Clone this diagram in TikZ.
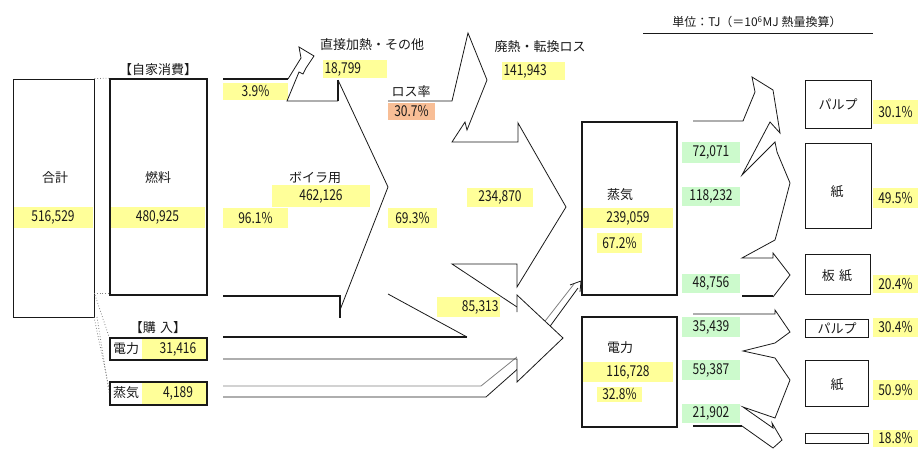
\documentclass[tikz,border=0pt]{standalone}
\usepackage{fontspec}
\setmainfont{Noto Sans CJK JP}
\newfontfamily\nf[FakeStretch=0.8]{Noto Sans CJK JP}
\definecolor{yel}{RGB}{255,255,153}
\definecolor{grn}{RGB}{204,250,204}
\definecolor{org}{RGB}{248,190,150}
\definecolor{ink}{RGB}{25,25,25}
% box: style, name, x1, y1, x2, y2
\newcommand\bx[6][bxs]{\node[#1, minimum width={#5-#3}, minimum height={#6-#4}] (#2) at ({(#3+#5)/2},{(#4+#6)/2}) {};}
% highlight: colour, name, x1, y1, x2, y2, text
\newcommand\hlb[7][yel]{\node[num, fill=#1, minimum width={#5-#3}, minimum height={#6-#4}] (#2) at ({(#3+#5)/2},{(#4+#6)/2}) {#7};}
\begin{document}
\begin{tikzpicture}[x=1pt,y=-1pt,
  lab/.style={inner sep=0, text=ink, font=\fontsize{13}{15}\selectfont},
  num/.style={inner sep=0, text=ink, font=\nf\fontsize{15}{17}\selectfont},
  thinl/.style={draw=ink, line width=0.8pt, line join=miter},
  midl/.style={draw=ink, line width=1.2pt},
  thickl/.style={draw=ink, line width=1.8pt},
  bxs/.style={draw=ink, line width=0.9pt, inner sep=0},
  tbx/.style={draw=ink, line width=1.6pt, inner sep=0},
  dots/.style={draw=gray, line width=0.8pt, dotted},
]
\useasboundingbox (0,0) rectangle (918,449);

% ---------------- highlights (drawn first) ----------------
\hlb{h1}{13}{207}{93}{228}{516,529}
\hlb{h2}{110}{207}{205}{228}{480,925}
\hlb{h3}{223}{83}{288}{100}{3.9\%}
\hlb{h4}{223}{208}{288}{228}{96.1\%}
\hlb{h5}{272}{185}{370}{207}{462,126}
\node[num, fill=yel, minimum width=64, minimum height=18, text width=61, align=left] (h6) at (355,69) {18,799};
\hlb{h7}{388}{208}{437}{228}{69.3\%}
\node[num, fill=yel, minimum width=63, minimum height=18, text width=60, align=left] (h8) at (533.5,71) {141,943};
\hlb{h9}{467}{188}{533}{207}{234,870}
\node[num, fill=yel, minimum width=63, minimum height=20, text width=60, align=right] (h10) at (468.5,307) {85,313};
\hlb[org]{h11}{388}{103}{435}{120}{30.7\%}
\hlb{h12}{583}{208}{673}{228}{239,059}
\hlb{h13}{597}{233}{642}{253}{67.2\%}
\hlb{h14}{583}{362}{673}{382}{116,728}
\hlb{h15}{597}{387}{642}{402}{32.8\%}
\hlb{h17}{873}{100}{918}{124}{30.1\%}
\hlb{h18}{873}{188}{918}{208}{49.5\%}
\hlb{h19}{873}{275}{918}{293}{20.4\%}
\hlb{h20}{873}{318}{918}{337}{30.4\%}
\hlb{h21}{873}{380}{918}{400}{50.9\%}
\hlb{h22}{873}{430}{918}{447}{18.8\%}
\hlb[grn]{g1}{682}{142}{740}{163}{72,071}
\hlb[grn]{g2}{682}{187}{740}{206}{118,232}
\hlb[grn]{g3}{682}{274}{740}{293}{48,756}
\hlb[grn]{g4}{682}{317}{740}{337}{35,439}
\hlb[grn]{g5}{682}{360}{740}{380}{59,387}
\hlb[grn]{g6}{682}{404}{740}{423}{21,902}

% ---------------- boxes ----------------
\bx{total}{13}{79}{94}{317}
\bx[tbx]{fuel}{110}{79}{207}{295}
\fill[yel] (142,339) rectangle (206,359);
\fill[yel] (142,383) rectangle (206,404);
\bx[tbx]{pel}{110}{338}{207}{360}
\bx[tbx]{pst}{110}{382}{207}{405}
\bx[tbx]{steam}{582}{122}{677}{295}
\bx[tbx]{elec}{582}{317}{677}{427}
\bx{pulp1}{805}{80}{871}{128}
\bx{paper1}{805}{143}{871}{228}
\bx{board}{805}{254}{870}{294}
\bx{pulp2}{805}{319}{868}{337}
\bx{paper2}{805}{360}{868}{406}
\bx{other}{805}{433}{868}{443}

% ---------------- texts ----------------
\node[lab] (t1) at (55,178) {合計};
\node[lab] (t2) at (158,178) {燃料};
\node[lab] (t3) at (158,70) {【自家消費】};
\node[lab] (t4) at (158,328) {【購\,\,入】};
\node[lab] (t5) at (126,349) {電力};
\node[num] (t5n) at (178,349) {31,416};
\node[lab] (t6) at (126,393) {蒸気};
\node[num] (t6n) at (178,393) {4,189};
\node[lab] (t7) at (372,45) {直接加熱・その他};
\node[lab] (t8) at (540,47) {廃熱・転換ロス};
\node[lab] (t9) at (411,92) {ロス率};
\node[lab] (t10) at (315,178) {ボイラ用};
\node[lab] (t11) at (620,195) {蒸気};
\node[lab] (t12) at (620,348) {電力};
\node[lab] (t13) at (838,104) {パルプ};
\node[lab] (t14) at (837,192) {紙};
\node[lab] (t15) at (837,276) {板\,\,紙};
\node[lab] (t16) at (837,328) {パルプ};
\node[lab] (t17) at (837,385) {紙};
\node[lab, font=\fontsize{12}{14}\selectfont] (unit) at (757,22) {単位：TJ（＝10\textsuperscript{6}MJ 熱量換算）};
\draw[thinl] (643,33) -- (873,33);

% ---------------- dotted links ----------------
\draw[dots] (total.north east) -- (fuel.north west);
\draw[dots] (94,293) -- (110,293);
\draw[dots] (95,295) -- (pel.north west);
\draw[dots] (94,317) -- (109,388);
\draw[dots] (97,317) -- (pst.west);

% ---------------- fuel outflow: 3.9% arrow and boiler arrow ----------------
\draw[midl] (223,79) -- (288,79);
\draw[thinl] (288,79) -- (301,58) -- (299,47) -- (314,56) -- (306,68) -- (303,74) -- (299,72) -- (287,101) -- (338,101);
\draw[thickl] (338,101) -- (338,80);
\draw[thinl] (338,80) -- (388,187) -- (340,310);
\draw[thickl] (223,296) -- (340,296) -- (340,318);

% ---------------- loss arrow and steam arrow ----------------
\draw[thinl] (388,101) -- (452,101) -- (468,33) -- (487,80) -- (467,130) -- (465,122) -- (452,142)
  -- (518,142) -- (518,123) -- (566,207) -- (517,287) -- (517,264) -- (452,264) -- (517,307);

% ---------------- power arrow (generated + purchased) ----------------
\draw[thinl] (388,294) -- (467,337);
\draw[thickl] (223,337) -- (467,337);
% purchased steam double line
\draw[thinl, draw=gray] (223,386) -- (481,386) -- (517,357) -- (574,284);
\draw[thinl] (223,397) -- (486,397) -- (521,366) -- (578,288);
\draw[thinl] (570,285) -- (581,281) -- (580,292);
\fill[white] (517,295) -- (563,338) -- (517,382) -- cycle;
\draw[thinl] (517,312) -- (517,295) -- (563,338) -- (517,382) -- (517,359) -- (223,359);

% ---------------- steam outflows ----------------
\draw[thinl] (693,121) -- (743,121) -- (755,92) -- (752,77) -- (773,90) -- (780,133) -- (770,122) -- (742,175)
  -- (775,142) -- (777,152) -- (790,183) -- (777,233) -- (775,240) -- (742,258) -- (773,258) -- (773,253)
  -- (790,275) -- (773,297);
\draw[thickl] (742,296) -- (773,296);

% ---------------- power outflows ----------------
\draw[thinl] (693,314) -- (775,314) -- (775,310) -- (790,332) -- (775,343) -- (743,351) -- (775,358)
  -- (790,380) -- (775,418) -- (743,407) -- (773,428) -- (772,423) -- (782,440) -- (773,448) -- (742,426);
\draw[thickl] (693,426) -- (742,426);
\end{tikzpicture}
\end{document}
